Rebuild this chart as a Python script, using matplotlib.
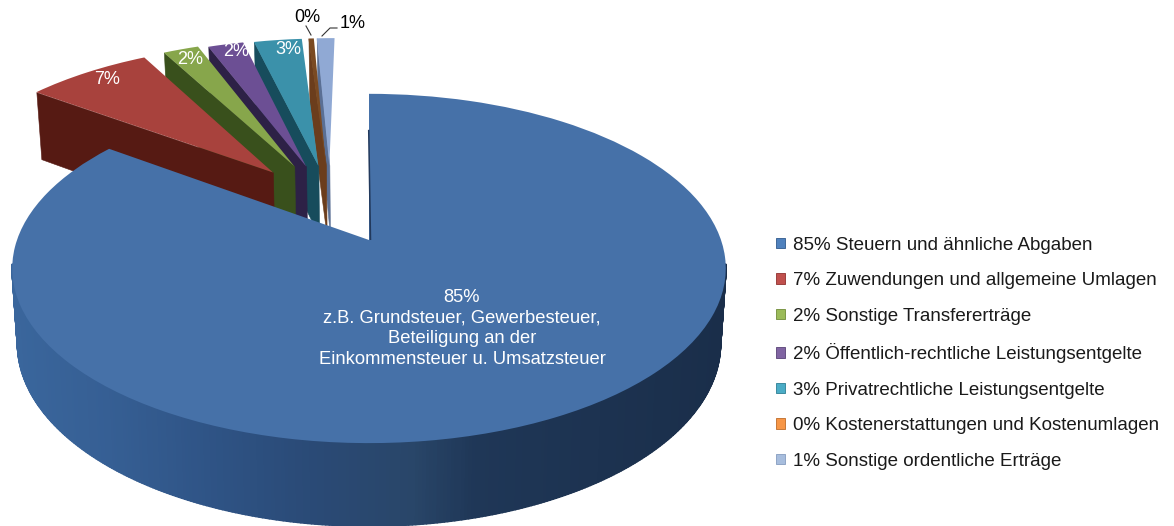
import numpy as np
import matplotlib
matplotlib.use("Agg")
import matplotlib.pyplot as plt
from matplotlib.collections import PolyCollection
from matplotlib.colors import LinearSegmentedColormap
from matplotlib.patches import Patch
from matplotlib.transforms import Transform

plt.rcParams["font.family"] = ["Liberation Sans", "DejaVu Sans"]

# ---- data ----
shares = [85, 7, 2, 2, 2.7, 0.3, 1.0]
percent_labels = ["85%", "7%", "2%", "2%", "3%", "0%", "1%"]
categories = [
    "Steuern und ähnliche Abgaben",
    "Zuwendungen und allgemeine Umlagen",
    "Sonstige Transfererträge",
    "Öffentlich-rechtliche Leistungsentgelte",
    "Privatrechtliche Leistungsentgelte",
    "Kostenerstattungen und Kostenumlagen",
    "Sonstige ordentliche Erträge",
]
main_note = ("85%\nz.B. Grundsteuer, Gewerbesteuer,\nBeteiligung an der\n"
             "Einkommensteuer u. Umsatzsteuer")

# ---- styles ----
top_colors = ["#4671a8", "#a8423d", "#87a64b", "#6c4f94", "#3b91aa", "#7a4a22", "#90a9d4"]
wall_colors = ["#1b304e", "#561a13", "#39501c", "#2d2146", "#174c5c", "#6b3d1c", "#5a6f94"]
legend_colors = ["#4f81bd", "#c0504d", "#9bbb59", "#8064a2", "#4bacc6", "#f79646", "#a7bddd"]
legend_edges = ["#3f6797", "#9a403e", "#7c9647", "#665082", "#3c8a9e", "#c67838", "#8fa5c5"]
draw_order = [6, 5, 4, 3, 2, 1, 0]
explode_amounts = [0.25, 0.27, 0.27, 0.255, 0.25, 0.25, 0.25]
APEX_X, APEX_Y, SCALE_X, SCALE_Y, PERSP = 369.0, 240.0, 352.0, 170.0, 0.163

fig = plt.figure(figsize=(11.74, 5.26), dpi=100, facecolor="white")
ax = fig.add_axes([0, 0, 1, 1])

wedges, _ = ax.pie(shares, explode=explode_amounts, startangle=90,
                   counterclock=False, colors=top_colors, labeldistance=None,
                   wedgeprops={"linewidth": 0})
ax.set_aspect("auto")
ax.set_xlim(0, 1174)
ax.set_ylim(526, 0)
ax.axis("off")
origin = np.array(wedges[0].center)


class TiltedPlane(Transform):
    """Perspective view of the pie plane, in pixel-like data units."""
    input_dims = output_dims = 2
    is_separable = False
    has_inverse = False

    def transform_non_affine(self, values):
        v = np.asarray(values, dtype=float) - origin
        w = 1 + PERSP * v[:, 1]
        return np.column_stack((APEX_X + SCALE_X * v[:, 0] / w,
                                APEX_Y - SCALE_Y * v[:, 1] / w))


tilt = TiltedPlane()


def rim(wedge, deg):
    a = np.radians(deg)
    cx, cy = wedge.center
    return tilt.transform_non_affine(np.column_stack((cx + wedge.r * np.cos(a),
                                                      cy + wedge.r * np.sin(a))))


def drop(pts):
    pts = np.atleast_2d(pts)
    depth = 67 + (pts[:, 1] - 93) * 0.0457
    return np.column_stack((APEX_X + (pts[:, 0] - APEX_X) * 0.985, pts[:, 1] + depth))


z = 2
for i in draw_order:
    wedge = wedges[i]
    apex = tilt.transform_non_affine(np.array([wedge.center]))
    if i == 0:
        # curved outer wall of the big slice
        shade = LinearSegmentedColormap.from_list(
            "wall", [(0.00, "#3a669c"), (0.13, "#365f94"), (0.27, "#2f5486"),
                     (0.42, "#2a4a76"), (0.56, "#294669"), (0.65, "#1f3757"), (1.00, "#1a2e4a")])
        ts = np.linspace(-172, -8, 329)
        top_pts = rim(wedge, ts)
        low_pts = drop(top_pts)
        polys = [[top_pts[k], top_pts[k + 1], low_pts[k + 1], low_pts[k]] for k in range(len(ts) - 1)]
        cols = [shade(float(np.clip((top_pts[k, 0] - 12) / 713, 0, 1))) for k in range(len(ts) - 1)]
        ax.add_collection(PolyCollection(polys, facecolors=cols, edgecolors=cols, linewidths=1.3, zorder=z))
        z += 1
    else:
        # radial wall under the slice's left edge
        corner = rim(wedge, [wedge.theta2])
        quad = np.vstack((corner, apex, drop(apex), drop(corner)))
        ax.add_collection(PolyCollection([quad], facecolors=wall_colors[i],
                                         edgecolors=wall_colors[i], linewidths=0.4, zorder=z))
        z += 1
    wedge.set_transform(tilt + ax.transData)
    wedge.set_clip_on(False)
    wedge.set_zorder(z)
    z += 1

# thin dark cut along the start of the big slice
top_start = rim(wedges[0], [wedges[0].theta2])
apex0 = tilt.transform_non_affine(np.array([wedges[0].center]))
ax.plot([top_start[0, 0] - 0.3, apex0[0, 0] + 1.5], [top_start[0, 1] + 36, apex0[0, 1]],
        color="#22395c", lw=1.1, zorder=z, solid_capstyle="butt")
z += 1

# slice labels
label_pos = [None, (107, 80), (190, 59), (236, 52), (288, 50)]
for i in range(1, 5):
    ax.text(*label_pos[i], percent_labels[i], color="white", fontsize=13,
            ha="center", va="center", zorder=z)
ax.text(307, 18, percent_labels[5], color="black", fontsize=13, ha="center", va="center", zorder=z)
ax.text(353, 24, percent_labels[6], color="black", fontsize=13, ha="center", va="center", zorder=z)
ax.plot([306, 311], [26, 35], color="#333333", lw=0.8, zorder=z)
ax.plot([322, 330, 337], [36, 28, 28], color="#333333", lw=0.8, zorder=z)
ax.text(462, 328.5, main_note, color="white", fontsize=13.2, ha="center", va="center",
        linespacing=1.295, zorder=z)

# legend
handles = [Patch(facecolor=c, edgecolor=e, linewidth=0.7) for c, e in zip(legend_colors, legend_edges)]
labels = [f"{p} {c}" for p, c in zip(percent_labels, categories)]
leg = ax.legend(handles, labels, loc="upper left", bbox_to_anchor=(776, 236.5),
                bbox_transform=ax.transData, frameon=False, fontsize=13.5,
                handlelength=0.48, handleheight=0.48, handletextpad=0.43,
                labelspacing=0.99, borderpad=0, borderaxespad=0)
for t in leg.get_texts():
    t.set_color("#1a1a1a")
leg.set_zorder(z)

fig.savefig("out.png", dpi=100)
